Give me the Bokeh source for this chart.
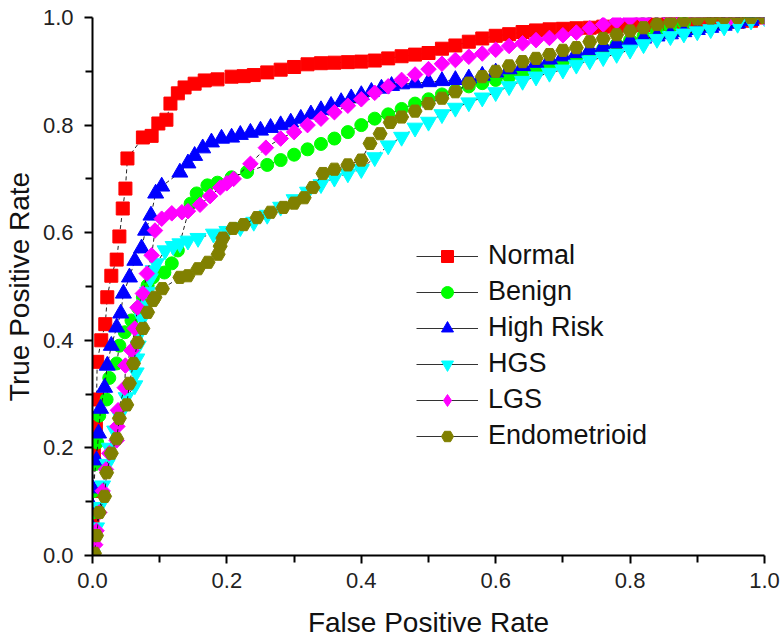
import numpy as np
from bokeh.plotting import figure
from bokeh.models import (Range1d, FixedTicker, PrintfTickFormatter, Legend,
                          LegendItem, ColumnDataSource)
from bokeh.embed import file_html
from bokeh.resources import INLINE

# ---- data: (false positive rate, true positive rate) ----
normal = [
    (0, 0), (0, 0.06), (0, 0.12), (0.002, 0.19), (0.005, 0.24), (0.006, 0.29),
    (0.007, 0.36), (0.013, 0.40), (0.019, 0.43), (0.022, 0.48), (0.028, 0.52),
    (0.036, 0.55), (0.040, 0.593), (0.045, 0.645), (0.049, 0.682), (0.052, 0.738),
    (0.075, 0.777), (0.088, 0.78), (0.098, 0.803), (0.110, 0.81), (0.116, 0.84),
    (0.127, 0.859), (0.137, 0.87), (0.152, 0.877), (0.167, 0.883), (0.186, 0.885),
    (0.207, 0.89), (0.225, 0.891), (0.24, 0.893), (0.26, 0.898), (0.28, 0.903),
    (0.30, 0.908), (0.32, 0.913), (0.34, 0.915), (0.36, 0.916), (0.38, 0.917),
    (0.40, 0.918), (0.42, 0.920), (0.44, 0.924), (0.46, 0.928), (0.48, 0.931),
    (0.50, 0.934), (0.52, 0.942), (0.54, 0.948), (0.56, 0.955), (0.58, 0.961),
    (0.60, 0.966), (0.62, 0.969), (0.64, 0.973), (0.66, 0.976), (0.68, 0.978),
    (0.70, 0.979), (0.72, 0.980), (0.74, 0.981), (0.76, 0.983), (0.78, 0.984),
    (0.80, 0.985), (0.82, 0.986), (0.84, 0.987), (0.86, 0.988), (0.88, 0.989),
    (0.90, 0.990), (0.92, 0.990), (0.94, 0.991), (0.96, 0.992), (0.98, 0.994),
    (1.0, 1.0),
]

benign = [
    (0, 0), (0, 0.04), (0, 0.08), (0.002, 0.12), (0.004, 0.17), (0.007, 0.21),
    (0.010, 0.26), (0.021, 0.29), (0.025, 0.33), (0.036, 0.357), (0.040, 0.39),
    (0.048, 0.415), (0.058, 0.437), (0.068, 0.46), (0.075, 0.48), (0.082, 0.502),
    (0.090, 0.517), (0.107, 0.526), (0.118, 0.543), (0.127, 0.567), (0.146, 0.654),
    (0.155, 0.673), (0.171, 0.688), (0.186, 0.693), (0.207, 0.703), (0.23, 0.713),
    (0.26, 0.726), (0.28, 0.735), (0.30, 0.745), (0.32, 0.755), (0.34, 0.765),
    (0.36, 0.775), (0.38, 0.787), (0.40, 0.80), (0.42, 0.812), (0.44, 0.82),
    (0.46, 0.83), (0.48, 0.84), (0.50, 0.848), (0.52, 0.857), (0.54, 0.864),
    (0.56, 0.872), (0.58, 0.878), (0.60, 0.884), (0.62, 0.89), (0.64, 0.896),
    (0.66, 0.902), (0.68, 0.91), (0.70, 0.918), (0.72, 0.926), (0.74, 0.934),
    (0.76, 0.942), (0.78, 0.95), (0.80, 0.958), (0.82, 0.966), (0.84, 0.974),
    (0.86, 0.982), (0.88, 0.99), (0.90, 1.0), (0.95, 1.0), (1.0, 1.0),
]

high_risk = [
    (0, 0), (0, 0.05), (0, 0.09), (0, 0.125), (0.006, 0.177), (0.009, 0.227),
    (0.012, 0.273), (0.018, 0.312), (0.022, 0.353), (0.028, 0.39), (0.036, 0.424),
    (0.042, 0.45), (0.046, 0.487), (0.055, 0.517), (0.063, 0.548), (0.073, 0.571),
    (0.079, 0.604), (0.087, 0.632), (0.094, 0.673), (0.103, 0.686), (0.13, 0.712),
    (0.142, 0.729), (0.152, 0.743), (0.164, 0.757), (0.177, 0.768), (0.192, 0.775),
    (0.207, 0.777), (0.22, 0.782), (0.235, 0.786), (0.25, 0.79), (0.265, 0.795),
    (0.28, 0.80), (0.295, 0.805), (0.31, 0.812), (0.325, 0.82), (0.34, 0.828),
    (0.355, 0.836), (0.37, 0.843), (0.385, 0.85), (0.40, 0.856), (0.415, 0.862),
    (0.43, 0.868), (0.445, 0.873), (0.46, 0.876), (0.48, 0.878), (0.50, 0.88),
    (0.52, 0.882), (0.54, 0.884), (0.56, 0.887), (0.58, 0.892), (0.60, 0.898),
    (0.62, 0.904), (0.64, 0.91), (0.66, 0.916), (0.68, 0.922), (0.70, 0.928),
    (0.72, 0.934), (0.74, 0.94), (0.76, 0.946), (0.78, 0.952), (0.80, 0.957),
    (0.82, 0.961), (0.84, 0.965), (0.86, 0.969), (0.88, 0.973), (0.90, 0.977),
    (0.92, 0.981), (0.94, 0.985), (0.96, 0.989), (0.98, 0.994), (1.0, 1.0),
]

hgs = [
    (0, 0), (0.002, 0.03), (0.006, 0.052), (0.010, 0.09), (0.015, 0.13),
    (0.022, 0.17), (0.025, 0.20), (0.033, 0.232), (0.040, 0.26), (0.050, 0.294),
    (0.063, 0.316), (0.065, 0.34), (0.066, 0.366), (0.068, 0.39), (0.070, 0.413),
    (0.074, 0.44), (0.078, 0.465), (0.082, 0.49), (0.086, 0.515), (0.090, 0.53),
    (0.095, 0.543), (0.108, 0.567), (0.12, 0.575), (0.13, 0.58), (0.142, 0.585),
    (0.157, 0.59), (0.18, 0.598), (0.20, 0.603), (0.22, 0.61), (0.24, 0.62),
    (0.26, 0.633), (0.28, 0.648), (0.30, 0.662), (0.32, 0.676), (0.34, 0.69),
    (0.36, 0.702), (0.38, 0.71), (0.40, 0.718), (0.42, 0.74), (0.44, 0.762),
    (0.46, 0.778), (0.48, 0.795), (0.50, 0.806), (0.52, 0.82), (0.54, 0.832),
    (0.56, 0.842), (0.58, 0.851), (0.60, 0.861), (0.62, 0.872), (0.64, 0.882),
    (0.66, 0.89), (0.68, 0.897), (0.70, 0.903), (0.72, 0.912), (0.74, 0.92),
    (0.76, 0.926), (0.78, 0.932), (0.80, 0.94), (0.82, 0.95), (0.84, 0.96),
    (0.86, 0.965), (0.88, 0.97), (0.90, 0.974), (0.92, 0.978), (0.94, 0.983),
    (0.96, 0.988), (0.98, 0.994), (1.0, 1.0),
]

lgs = [
    (0, 0), (0.004, 0.02), (0.006, 0.046), (0.010, 0.08), (0.015, 0.12),
    (0.020, 0.16), (0.025, 0.19), (0.036, 0.214), (0.037, 0.24), (0.038, 0.27),
    (0.048, 0.312), (0.049, 0.353), (0.058, 0.381), (0.063, 0.422), (0.067, 0.461),
    (0.075, 0.487), (0.081, 0.524), (0.088, 0.558), (0.093, 0.604), (0.103, 0.626),
    (0.118, 0.636), (0.133, 0.638), (0.142, 0.64), (0.16, 0.652), (0.175, 0.668),
    (0.19, 0.684), (0.20, 0.692), (0.21, 0.70), (0.235, 0.728), (0.258, 0.758),
    (0.28, 0.775), (0.30, 0.787), (0.32, 0.80), (0.34, 0.812), (0.36, 0.824),
    (0.38, 0.836), (0.40, 0.848), (0.42, 0.86), (0.44, 0.872), (0.46, 0.884),
    (0.48, 0.894), (0.50, 0.904), (0.52, 0.914), (0.54, 0.921), (0.56, 0.927),
    (0.58, 0.933), (0.60, 0.94), (0.62, 0.947), (0.64, 0.952), (0.66, 0.958),
    (0.68, 0.962), (0.70, 0.967), (0.72, 0.972), (0.74, 0.98), (0.76, 0.987),
    (0.78, 0.993), (0.80, 0.998), (0.82, 1.0), (0.86, 1.0), (0.90, 1.0),
    (0.95, 1.0), (1.0, 1.0),
]

endometrioid = [
    (0, 0), (0.003, 0.004), (0.006, 0.037), (0.010, 0.08), (0.018, 0.11),
    (0.021, 0.154), (0.028, 0.19), (0.036, 0.217), (0.040, 0.255), (0.051, 0.28),
    (0.055, 0.32), (0.061, 0.357), (0.067, 0.396), (0.075, 0.422), (0.082, 0.452),
    (0.090, 0.474), (0.093, 0.48), (0.104, 0.496), (0.13, 0.517), (0.142, 0.52),
    (0.157, 0.533), (0.172, 0.545), (0.187, 0.56), (0.19, 0.575), (0.194, 0.59),
    (0.209, 0.608), (0.225, 0.615), (0.245, 0.628), (0.265, 0.638), (0.284, 0.647),
    (0.30, 0.655), (0.315, 0.665), (0.328, 0.684), (0.343, 0.71), (0.36, 0.718),
    (0.38, 0.726), (0.40, 0.735), (0.413, 0.766), (0.428, 0.784), (0.443, 0.805),
    (0.46, 0.815), (0.48, 0.826), (0.50, 0.84), (0.52, 0.85), (0.54, 0.862),
    (0.56, 0.878), (0.58, 0.89), (0.60, 0.90), (0.62, 0.91), (0.64, 0.918),
    (0.66, 0.924), (0.68, 0.931), (0.70, 0.939), (0.72, 0.944), (0.74, 0.955),
    (0.76, 0.961), (0.78, 0.968), (0.80, 0.975), (0.82, 0.981), (0.84, 0.987),
    (0.86, 0.992), (0.88, 0.995), (0.90, 0.997), (0.92, 0.999), (0.94, 1.0),
    (0.96, 1.0), (0.98, 1.0), (1.0, 1.0),
]

labels = ["Normal", "Benign", "High Risk", "HGS", "LGS", "Endometrioid"]
colors = ["#FF0000", "#00FF00", "#0000FF", "#00FFFF", "#FF00FF", "#808000"]
x_ticks = [0.0, 0.2, 0.4, 0.6, 0.8, 1.0]
y_ticks = [0.0, 0.2, 0.4, 0.6, 0.8, 1.0]
minor = [0.1, 0.3, 0.5, 0.7, 0.9]
x_title = "False Positive Rate"
y_title = "True Positive Rate"

FONT = "Liberation Sans"

p = figure(width=780, height=641, output_backend="svg", toolbar_location=None,
           x_range=Range1d(0, 1), y_range=Range1d(0, 1),
           min_border_left=92, min_border_right=16, min_border_top=17,
           min_border_bottom=86)
p.outline_line_color = None
p.grid.visible = False
p.background_fill_color = "white"
p.border_fill_color = "white"

for ax, ticks in ((p.xaxis[0], x_ticks), (p.yaxis[0], y_ticks)):
    ax.ticker = FixedTicker(ticks=ticks, minor_ticks=minor)
    ax.formatter = PrintfTickFormatter(format="%.1f")
    ax.axis_line_width = 2
    ax.axis_line_color = "black"
    ax.major_tick_line_width = 2
    ax.minor_tick_line_width = 2
    ax.major_tick_line_color = "black"
    ax.minor_tick_line_color = "black"
    ax.major_tick_in = 0
    ax.major_tick_out = 8
    ax.minor_tick_in = 0
    ax.minor_tick_out = 7
    ax.major_label_text_font = FONT
    ax.major_label_text_font_size = "22px"
    ax.major_label_text_color = "#222222"
    ax.axis_label_text_font = FONT
    ax.axis_label_text_font_size = "28px"
    ax.axis_label_text_font_style = "normal"
    ax.axis_label_text_color = "#111111"

p.xaxis.axis_label = x_title
p.yaxis.axis_label = y_title
p.xaxis.major_label_standoff = 9
p.yaxis.major_label_standoff = 11
p.xaxis.axis_label_standoff = 16
p.yaxis.axis_label_standoff = 5

all_series = [normal, benign, high_risk, hgs, lgs, endometrioid]
markers = ["square", "circle", "triangle", "inverted_triangle", "square", "hex"]
sizes = [13, 13, 16, 16, 11, 14]
angles = [0, 0, 0, 0, np.pi / 4, 0]
legend_markers = ["square", "circle", "triangle", "inverted_triangle", "diamond", "hex"]

items = []
for lab, data, col, mk, sz, ang, lmk in zip(labels, all_series, colors, markers,
                                             sizes, angles, legend_markers):
    src = ColumnDataSource(dict(x=[d[0] for d in data], y=[d[1] for d in data]))
    p.line("x", "y", source=src, line_color="#222222", line_width=1,
           line_dash="4 3")
    p.scatter("x", "y", source=src, marker=mk, size=sz, angle=ang,
              fill_color=col, line_color=col)
    # legend-only glyphs (solid line + marker), no visible data
    lr = p.line(x=[np.nan], y=[np.nan], line_color="#333333", line_width=1)
    sr = p.scatter(x=[np.nan], y=[np.nan], marker=lmk, fill_color=col,
                   line_color=col)
    items.append(LegendItem(label=lab, renderers=[lr, sr]))

legend = Legend(items=items, location=(324, 104), orientation="vertical",
                glyph_width=62, glyph_height=30, label_height=30, spacing=5,
                label_standoff=10, padding=0, margin=0,
                label_text_font=FONT, label_text_font_size="27px",
                label_text_color="#111111",
                border_line_color=None, background_fill_alpha=0)
p.add_layout(legend)

open("out.html", "w").write(file_html(p, INLINE))
